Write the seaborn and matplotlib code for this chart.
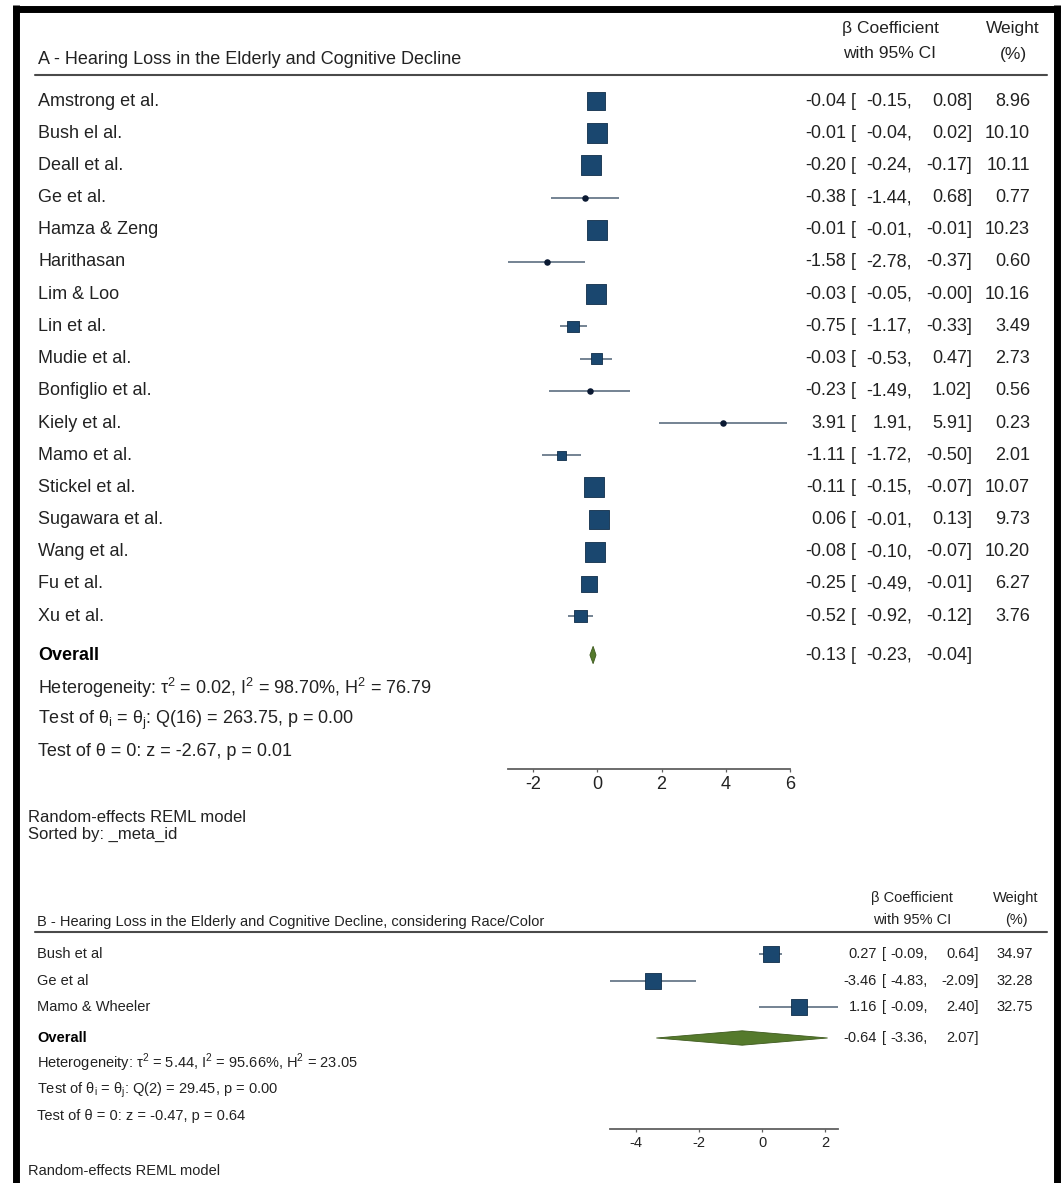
import numpy as np
import pandas as pd
import matplotlib
matplotlib.use("Agg")
import matplotlib.pyplot as plt
import matplotlib.transforms as mtransforms
from matplotlib.lines import Line2D
import seaborn as sns

# ---------------- data ----------------
studies_A = ["Amstrong et al.", "Bush el al.", "Deall et al.", "Ge et al.", "Hamza & Zeng",
             "Harithasan", "Lim & Loo", "Lin et al.", "Mudie et al.", "Bonfiglio et al.",
             "Kiely et al.", "Mamo et al.", "Stickel et al.", "Sugawara et al.", "Wang et al.",
             "Fu et al.", "Xu et al."]
beta_A = [-0.04, -0.01, -0.20, -0.38, -0.01, -1.58, -0.03, -0.75, -0.03, -0.23,
          3.91, -1.11, -0.11, 0.06, -0.08, -0.25, -0.52]
lo_A = [-0.15, -0.04, -0.24, -1.44, -0.01, -2.78, -0.05, -1.17, -0.53, -1.49,
        1.91, -1.72, -0.15, -0.01, -0.10, -0.49, -0.92]
hi_A = [0.08, 0.02, -0.17, 0.68, -0.01, -0.37, -0.0, -0.33, 0.47, 1.02,
        5.91, -0.50, -0.07, 0.13, -0.07, -0.01, -0.12]
weight_A = [8.96, 10.10, 10.11, 0.77, 10.23, 0.60, 10.16, 3.49, 2.73, 0.56,
            0.23, 2.01, 10.07, 9.73, 10.20, 6.27, 3.76]
overall_A = [-0.13, -0.23, -0.04]
ticks_A = [-2, 0, 2, 4, 6]
title_A = "A - Hearing Loss in the Elderly and Cognitive Decline"
stats_A = ["Heterogeneity: τ$^\\mathregular{2}$ = 0.02, I$^\\mathregular{2}$ = 98.70%, H$^\\mathregular{2}$ = 76.79",
           "Test of θ$_\\mathregular{i}$ = θ$_\\mathregular{j}$: Q(16) = 263.75, p = 0.00",
           "Test of θ = 0: z = -2.67, p = 0.01"]
notes_A = ["Random-effects REML model", "Sorted by: _meta_id"]

studies_B = ["Bush et al", "Ge et al", "Mamo & Wheeler"]
beta_B = [0.27, -3.46, 1.16]
lo_B = [-0.09, -4.83, -0.09]
hi_B = [0.64, -2.09, 2.40]
weight_B = [34.97, 32.28, 32.75]
overall_B = [-0.64, -3.36, 2.07]
ticks_B = [-4, -2, 0, 2]
title_B = "B - Hearing Loss in the Elderly and Cognitive Decline, considering Race/Color"
stats_B = ["Heterogeneity: τ$^\\mathregular{2}$ = 5.44, I$^\\mathregular{2}$ = 95.66%, H$^\\mathregular{2}$ = 23.05",
           "Test of θ$_\\mathregular{i}$ = θ$_\\mathregular{j}$: Q(2) = 29.45, p = 0.00",
           "Test of θ = 0: z = -0.47, p = 0.64"]
notes_B = ["Random-effects REML model"]

col_head_1 = ["β Coefficient", "with 95% CI"]
col_head_2 = ["Weight", "(%)"]

# ---------------- style ----------------
sns.set_theme(style="white")
plt.rcParams['font.family'] = ['Liberation Sans', 'DejaVu Sans']
plt.rcParams['axes.unicode_minus'] = False

SQ_COLOR = "#1a476f"
SQ_EDGE = "#0f2d4a"
CI_COLOR = "#5c6e80"
DOT_COLOR = "#0b1a33"
DIA_COLOR = "#557a2c"
DIA_EDGE = "#3e5a1e"
TXT = "#222222"

W, H, DPI = 1063, 1183, 100
fig = plt.figure(figsize=(W / DPI, H / DPI), dpi=DPI)
fig.patch.set_facecolor("white")


def fx(px):
    return px / W


def fy(py):
    return 1 - py / H


def forest(L, labels, est, lo, hi, wts, overall, ticks, title, stats, notes):
    fs = L["fs"]
    row0, step = L["row0"], L["step"]

    def u(py):  # pixel row -> row units
        return (py - row0) / step

    xmin = min(min(lo), overall[1])
    xmax = max(max(hi), overall[2], max(ticks))
    ax = fig.add_axes([fx(L["left"]), fy(L["axis"]), (L["right"] - L["left"]) / W,
                       (L["axis"] - L["top"]) / H])
    ax.set_xlim(xmin, xmax)
    ax.set_ylim(u(L["axis"]), u(L["top"]))
    ax.patch.set_alpha(0)

    ypos = np.arange(len(labels), dtype=float)
    df = pd.DataFrame({"study": labels, "beta": est, "lo": lo, "hi": hi,
                       "weight": wts, "y": ypos})
    k = L["sq_k"]
    df["side"] = np.sqrt(k * df["weight"])
    big = df[df["side"] >= 4.5]
    small = df[df["side"] < 4.5]

    # CI lines
    ax.hlines(df["y"], df["lo"], df["hi"], color=CI_COLOR, lw=L["ci_lw"], zorder=2, clip_on=False)
    # weighted squares (area proportional to weight)
    sns.scatterplot(data=big, x="beta", y="y", size="weight",
                    sizes=(k * big["weight"].min(), k * big["weight"].max()),
                    marker="s", color=SQ_COLOR, edgecolor=SQ_EDGE, linewidth=0.6,
                    legend=False, ax=ax, zorder=3, clip_on=False)
    # point marker where the square would be tiny
    if len(small):
        sns.scatterplot(data=small, x="beta", y="y", marker="o", s=L["dot_s"], color=DOT_COLOR,
                        edgecolor=DOT_COLOR, linewidth=0, legend=False, ax=ax, zorder=4,
                        clip_on=False)

    # overall diamond
    y_ov = u(L["ov_y"])
    hh = L["dia_h"]
    ax.fill([overall[1], overall[0], overall[2], overall[0]],
            [y_ov, y_ov - hh, y_ov, y_ov + hh], color=DIA_COLOR, ec=DIA_EDGE, lw=0.6,
            zorder=3, clip_on=False)

    # axis styling
    for s in ["left", "right", "top"]:
        ax.spines[s].set_visible(False)
    ax.spines["bottom"].set_color("#606060")
    ax.spines["bottom"].set_linewidth(1.3)
    ax.set_xticks(ticks)
    ax.set_xticklabels([str(t) for t in ticks])
    ax.set_yticks([])
    ax.tick_params(axis="x", bottom=True, direction="out", length=2.5, width=0.9,
                   color="#606060", labelsize=L["tick_fs"], pad=2.5, labelcolor=TXT)
    ax.set_xlabel("")
    ax.set_ylabel("")
    ax.grid(False)

    tr = mtransforms.blended_transform_factory(fig.transFigure, ax.transData)
    c = L["cols"]

    def ci_row(y, e, l, h, wgt=None):
        kw = dict(transform=tr, va="center", fontsize=fs, color=TXT)
        ax.text(fx(c[0]), y, f"{e:.2f}", ha="right", **kw)
        ax.text(fx(c[1]), y, "[", ha="left", **kw)
        ax.text(fx(c[2]), y, f"{l:.2f},", ha="right", **kw)
        ax.text(fx(c[3]), y, f"{h:.2f}]", ha="right", **kw)
        if wgt is not None:
            ax.text(fx(c[4]), y, f"{wgt:.2f}", ha="right", **kw)

    for i, r in df.iterrows():
        ax.text(fx(L["lab_x"]), r["y"], r["study"], transform=tr, ha="left", va="center",
                fontsize=fs, color=TXT)
        ci_row(r["y"], r["beta"], r["lo"], r["hi"], r["weight"])

    ax.text(fx(L["lab_x"]), y_ov, "Overall", transform=tr, ha="left", va="center",
            fontsize=fs, fontweight="bold", color="black")
    ci_row(y_ov, overall[0], overall[1], overall[2])

    for s_txt, py in zip(stats, L["stats_y"]):
        ax.text(fx(L["lab_x"]), u(py), s_txt, transform=tr, ha="left", va="center",
                fontsize=fs, color=TXT)

    # headers
    fig.text(fx(L["lab_x"]), fy(L["title_y"]), title, ha="left", va="center", fontsize=fs, color=TXT)
    for j in range(2):
        fig.text(fx(L["h1_x"]), fy(L["hdr_y"][j]), col_head_1[j], ha="center", va="center",
                 fontsize=L["hdr_fs"], color=TXT)
        fig.text(fx(L["h2_x"]), fy(L["hdr_y"][j]), col_head_2[j], ha="center", va="center",
                 fontsize=L["hdr_fs"], color=TXT)
    fig.add_artist(Line2D([fx(35), fx(1047)], [fy(L["rule_y"]), fy(L["rule_y"])],
                          transform=fig.transFigure, color="#4a4a4a", lw=1.5))

    for n_txt, py in zip(notes, L["notes_y"]):
        fig.text(fx(28), fy(py), n_txt, ha="left", va="center", fontsize=L["note_fs"], color=TXT)
    return ax


layout_A = dict(left=508, right=790, top=80, axis=769, row0=101, step=32.2, fs=13, tick_fs=13,
                hdr_fs=12.5, note_fs=12, lab_x=38, ov_y=655, stats_y=[688, 720, 752],
                title_y=60, hdr_y=[29, 54], rule_y=75, h1_x=890, h2_x=1013,
                cols=[846, 851, 912, 972, 1030], notes_y=[817, 834],
                sq_k=20.6, dot_s=22, dia_h=0.27, ci_lw=1.2)
layout_B = dict(left=610, right=838, top=940, axis=1129, row0=954, step=26.7, fs=10.5, tick_fs=10.5,
                hdr_fs=10.5, note_fs=10.5, lab_x=37, ov_y=1038, stats_y=[1063, 1090, 1116],
                title_y=922, hdr_y=[898, 920], rule_y=932, h1_x=912, h2_x=1016,
                cols=[877, 882, 928, 979, 1033], notes_y=[1171],
                sq_k=4.1, dot_s=14, dia_h=0.27, ci_lw=1.2)

forest(layout_A, studies_A, beta_A, lo_A, hi_A, weight_A, overall_A, ticks_A, title_A, stats_A, notes_A)
forest(layout_B, studies_B, beta_B, lo_B, hi_B, weight_B, overall_B, ticks_B, title_B, stats_B, notes_B)

# outer black frame (top, left, right)
for xs, ys in [([13, 1060], [8.5, 8.5]), ([16, 16], [5, 1183]), ([1056.5, 1056.5], [5, 1183])]:
    fig.add_artist(Line2D([fx(x) for x in xs], [fy(y) for y in ys], transform=fig.transFigure,
                          color="black", lw=5.0, solid_capstyle="butt"))

fig.savefig("out.png", dpi=DPI, facecolor="white")
